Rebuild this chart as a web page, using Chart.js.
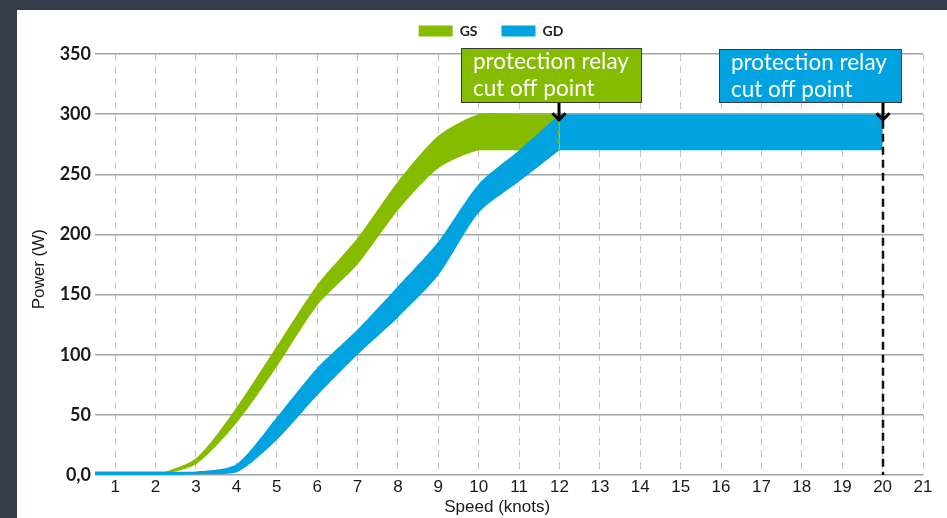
<!DOCTYPE html>
<html><head><meta charset="utf-8">
<script src="https://cdn.jsdelivr.net/npm/chart.js@4.4.1/dist/chart.umd.min.js"></script>
<style>
html,body{margin:0;padding:0;background:#333d48;width:947px;height:518px;overflow:hidden}
#wrap{position:absolute;left:17px;top:10px;width:930px;height:508px;background:#fff}
canvas{display:block}
</style></head><body>
<div id="wrap"><canvas id="c" width="930" height="508"></canvas></div>
<script>
// ---- data ----
const speeds  = [0.5, 1, 2, 3, 4, 5, 6, 7, 8, 9, 10, 11, 12, 13, 14, 15, 16, 17, 18, 19, 20];
const gsUpper = [1, 1, 1, 14, 56, 107, 158, 197, 244, 282, 300, 300, 300, null, null, null, null, null, null, null, null];
const gsLower = [0, 0, 0, 9, 43, 90, 141, 175, 220, 255, 270, 270, 270, null, null, null, null, null, null, null, null];
const gdUpper = [3, 3, 3, 3, 9, 48, 89, 121, 157, 194, 242, 270, 300, 300, 300, 300, 300, 300, 300, 300, 300];
const gdLower = [0, 0, 0, 0.5, 2, 29, 66, 100, 131, 166, 218, 244, 270, 270, 270, 270, 270, 270, 270, 270, 270];
const xTicks  = [1, 2, 3, 4, 5, 6, 7, 8, 9, 10, 11, 12, 13, 14, 15, 16, 17, 18, 19, 20, 21];
const yTicks  = [0, 50, 100, 150, 200, 250, 300, 350];
const seriesNames = ['GS', 'GD'];
const plateauFrom = [11, 12];   // speed where each band becomes a straight plateau
const cutoffSpeeds = [12, 20];
const cutoffText = ['protection relay', 'cut off point'];

// ---- styles ----
const GREEN = '#86bc00', BLUE = '#00a3df';
const ptsRange = (ys, from, to) => speeds.map((x, i) => ({x, y: ys[i]}))
  .filter(p => p.x >= from && p.x <= to && p.y !== null);
const common = {borderWidth: 0, borderColor: 'rgba(0,0,0,0)', pointRadius: 0, pointHoverRadius: 0, spanGaps: false};

function bandDatasets(name, upper, lower, color, split, order) {
  const last = speeds[speeds.length - 1];
  const k = speeds.indexOf(split);
  const overlapStart = speeds[Math.max(0, k - 1)]; // overlap one step to avoid a seam
  return [
    {label: name + ' low', data: ptsRange(lower, 0, split), order, fill: false, backgroundColor: color, tension: 0.25, ...common},
    {label: name, data: ptsRange(upper, 0, split), order, fill: '-1', backgroundColor: color, tension: 0.25, ...common},
    {label: name + ' low2', data: ptsRange(lower, split === 11 ? overlapStart : split, last), order, fill: false, backgroundColor: color, tension: 0, ...common},
    {label: name + ' plateau', data: ptsRange(upper, split === 11 ? overlapStart : split, last), order, fill: '-1', backgroundColor: color, tension: 0, ...common}
  ];
}

const annot = [
  {speed: cutoffSpeeds[0], color: GREEN, boxX: [9.55, 14.04], boxY: [355, 309.5], tipY: 294.5,
   dropTo: 270, dropColor: GREEN, dropWidth: 2, dash: [5, 4]},
  {speed: cutoffSpeeds[1], color: BLUE, boxX: [15.95, 20.47], boxY: [354, 309.5], tipY: 294.5,
   dropTo: 0, dropColor: '#111', dropWidth: 2.5, dash: [8, 5]}
];

const annotPlugin = {
  id: 'cutoffs',
  afterLayout(chart) {
    const lg = chart.legend;
    if (lg) { lg.left += 21; lg.right += 21; lg.top -= 6; lg.bottom -= 6; }
  },
  afterDatasetsDraw(chart) {
    const {ctx, scales: {x, y}} = chart;
    ctx.save();
    annot.forEach(a => {
      const px = Math.round(x.getPixelForValue(a.speed));
      const tip = y.getPixelForValue(a.tipY);
      ctx.setLineDash(a.dash);
      ctx.strokeStyle = a.dropColor;
      ctx.lineWidth = a.dropWidth;
      ctx.beginPath(); ctx.moveTo(px, tip); ctx.lineTo(px, y.getPixelForValue(a.dropTo)); ctx.stroke();
      ctx.setLineDash([]);
      const l = Math.round(x.getPixelForValue(a.boxX[0])), r = Math.round(x.getPixelForValue(a.boxX[1]));
      const t = Math.round(y.getPixelForValue(a.boxY[0])), b = Math.round(y.getPixelForValue(a.boxY[1]));
      ctx.fillStyle = a.color;
      ctx.fillRect(l, t, r - l, b - t);
      ctx.strokeStyle = '#3a3a3a'; ctx.lineWidth = 1;
      ctx.strokeRect(l + 0.5, t + 0.5, r - l - 1, b - t - 1);
      ctx.strokeStyle = '#000'; ctx.lineWidth = 3; ctx.lineCap = 'butt'; ctx.lineJoin = 'miter';
      ctx.beginPath(); ctx.moveTo(px, b); ctx.lineTo(px, tip - 1); ctx.stroke();
      ctx.beginPath(); ctx.moveTo(px - 6.5, tip - 7.5); ctx.lineTo(px, tip - 1); ctx.lineTo(px + 6.5, tip - 7.5); ctx.stroke();
      ctx.fillStyle = '#fff';
      ctx.font = '22.5px Lato';
      ctx.textAlign = 'left'; ctx.textBaseline = 'alphabetic';
      cutoffText.forEach((s, i) => ctx.fillText(s, l + 12, t + 21 + i * 27));
    });
    ctx.restore();
  }
};

Chart.defaults.font.family = "'Liberation Sans', Arial, sans-serif";
Chart.defaults.color = '#1a1a1a';

new Chart(document.getElementById('c'), {
  type: 'line',
  data: {
    datasets: [
      ...bandDatasets(seriesNames[0], gsUpper, gsLower, GREEN, plateauFrom[0], 2),
      ...bandDatasets(seriesNames[1], gdUpper, gdLower, BLUE, plateauFrom[1], 1)
    ]
  },
  options: {
    responsive: false, animation: false, devicePixelRatio: 1,
    layout: {padding: {left: 0, right: 24, top: -4, bottom: 0}},
    plugins: {
      tooltip: {enabled: false},
      legend: {
        position: 'top',
        labels: {
          filter: item => seriesNames.includes(item.text),
          sort: (a, b) => a.datasetIndex - b.datasetIndex,
          boxWidth: 34, boxHeight: 11, padding: 24,
          font: {family: 'Lato', size: 14, weight: 'bold'}, color: '#222'
        }
      }
    },
    scales: {
      x: {
        type: 'linear', min: 0.5, max: 21,
        afterBuildTicks: axis => { axis.ticks = xTicks.map(v => ({value: v})); },
        afterFit: s => { s.height = 43; },
        grid: {color: '#c4c4c4', lineWidth: 1, drawTicks: false},
        border: {display: false, dash: [7, 5]},
        ticks: {padding: 2, font: {size: 17}, color: '#1a1a1a', maxRotation: 0, autoSkip: false},
        title: {display: true, text: 'Speed (knots)     ', font: {size: 17}, color: '#1a1a1a', padding: {top: 0, bottom: 0}}
      },
      y: {
        min: 0, max: 350,
        afterBuildTicks: axis => { axis.ticks = yTicks.map(v => ({value: v})); },
        afterFit: s => { s.width = 78; },
        grid: {color: '#a0a4a8', lineWidth: 1.5, drawTicks: false},
        border: {display: false},
        ticks: {padding: 4, font: {family: 'Lato', size: 18, weight: 'bold'}, color: '#1a1a1a',
          callback: v => v === 0 ? '0,0' : String(v)},
        title: {display: true, text: 'Power (W)  ', font: {size: 17}, color: '#1a1a1a', padding: {top: 12, bottom: 0}}
      }
    }
  },
  plugins: [annotPlugin]
});
</script>
</body></html>
